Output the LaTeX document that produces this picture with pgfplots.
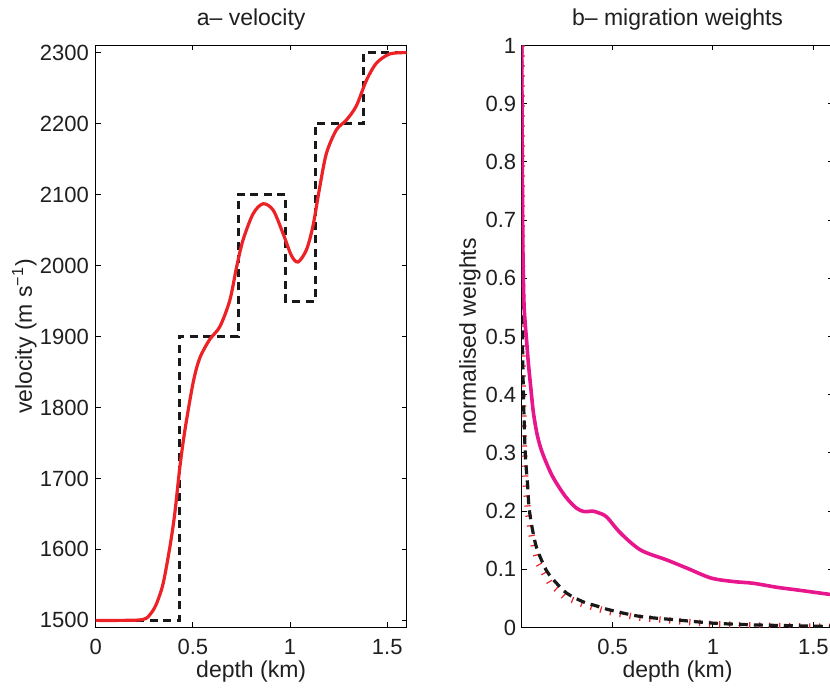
\documentclass[border=0pt]{standalone}
\usepackage{pgfplots}
\pgfplotsset{compat=1.18}
\usepackage{fontspec}
\setmainfont{Liberation Sans}
\definecolor{txt}{gray}{0.12}
\definecolor{myred}{RGB}{236,34,38}
\definecolor{mymag}{RGB}{232,22,140}
\newcommand{\ff}{\fontsize{11}{13}\selectfont}
\newcommand{\fl}{\fontsize{11.5}{13.8}\selectfont}
\begin{document}
\begin{tikzpicture}
\pgfplotsset{mystyle/.style={
  scale only axis, height=291pt, anchor=south west,
  axis line style={line width=0.6pt, black},
  every tick/.style={line width=0.5pt, black},
  major tick length=2.5pt,
  tick align=inside,
  xtick pos=both, ytick pos=both,
  xticklabel pos=lower, yticklabel pos=left,
  every tick label/.append style={font=\ff, text=txt},
  xticklabel style={inner sep=0pt, yshift=-5.5pt, anchor=north},
  label style={font=\fl, text=txt, inner sep=0pt},
  every axis title/.style={font=\fl, text=txt, inner sep=0pt, anchor=south, at={(axis description cs:0.5,1.0249)}},
  xlabel style={at={(axis description cs:0.5,-0.0567)}, anchor=north},
  /pgf/number format/assume math mode=true,
  scaled ticks=false,
}}
% ---------------- left panel ----------------
\begin{axis}[mystyle, at={(47.85pt,30.25pt)}, width=155.5pt,
  xmin=0, xmax=1.6, ymin=1490, ymax=2310,
  xtick={0,0.5,1,1.5}, xticklabels={0,0.5,1,1.5},
  ytick={1500,1600,1700,1800,1900,2000,2100,2200,2300},
  yticklabels={1500,1600,1700,1800,1900,2000,2100,2200,2300},
  yticklabel style={inner sep=0pt, xshift=-3.2pt, anchor=east},
  title={a\textendash\ velocity},
  xlabel={depth (km)},
  ylabel={velocity (m s\textsuperscript{−1})},
  ylabel style={at={(axis description cs:-0.1887,0.5)}, anchor=south},
]
\addplot[black!90, line width=1.5pt, dash pattern=on 4pt off 2.75pt] coordinates {
 (0,1500) (0.43,1500) (0.43,1900) (0.733,1900) (0.733,2100) (0.978,2100)
 (0.978,1950) (1.132,1950) (1.132,2200) (1.379,2200) (1.379,2300) (1.6,2300)};
\addplot[myred, line width=1.6pt, smooth] coordinates {
 (0,1500) (0.12,1500) (0.22,1500.5) (0.26,1503) (0.29,1512) (0.315,1525) (0.347,1552)
 (0.382,1604) (0.407,1651) (0.433,1716) (0.459,1768) (0.502,1836) (0.536,1870)
 (0.587,1896) (0.639,1914) (0.690,1951) (0.725,1998) (0.758,2036) (0.810,2073)
 (0.861,2087) (0.913,2078) (0.964,2045) (1.007,2014) (1.041,2005) (1.084,2022)
 (1.118,2056) (1.153,2111) (1.187,2158) (1.238,2191) (1.290,2205) (1.341,2225)
 (1.393,2261) (1.444,2285) (1.512,2298) (1.6,2300)};
\end{axis}
% ---------------- right panel ----------------
\begin{axis}[mystyle, at={(260.85pt,30.25pt)}, width=155.85pt,
  xmin=0.047, xmax=1.6, ymin=0, ymax=1,
  xtick={0.5,1,1.5}, xticklabels={0.5,1,1.5},
  ytick={0,0.1,0.2,0.3,0.4,0.5,0.6,0.7,0.8,0.9,1},
  yticklabels={0,0.1,0.2,0.3,0.4,0.5,0.6,0.7,0.8,0.9,1},
  yticklabel style={inner sep=0pt, xshift=-2.6pt, anchor=east},
  title={b\textendash\ migration weights},
  xlabel={depth (km)},
  ylabel={normalised weights},
  ylabel style={at={(axis description cs:-0.1306,0.5)}, anchor=south},
]
\addplot[myred, line width=3.2pt, line cap=butt, dash pattern=on 0.6pt off 4.4pt] coordinates {
 (0.047,1) (0.048,0.7) (0.050,0.5) (0.053,0.40) (0.058,0.31) (0.066,0.25)
 (0.078,0.20) (0.09,0.17) (0.11,0.135) (0.13,0.11) (0.19,0.075) (0.26,0.053)
 (0.35,0.040) (0.48,0.027) (0.63,0.017) (0.82,0.011) (1.0,0.006) (1.2,0.0035)
 (1.43,0.002) (1.6,0.001)};
\addplot[black!90, line width=1.6pt, dash pattern=on 4.5pt off 3pt, smooth] coordinates {
 (0.047,1) (0.049,0.7) (0.051,0.5) (0.055,0.41) (0.060,0.345) (0.066,0.29)
 (0.077,0.242) (0.083,0.208) (0.097,0.175) (0.117,0.142) (0.138,0.122) (0.17,0.098)
 (0.205,0.082) (0.271,0.059) (0.354,0.044) (0.42,0.037) (0.487,0.030) (0.637,0.019)
 (0.82,0.013) (1.0,0.0075) (1.2,0.0045) (1.434,0.0028) (1.6,0.0015)};
\addplot[mymag, line width=1.8pt, smooth] coordinates {
 (0.047,1) (0.050,0.8) (0.053,0.65) (0.058,0.56) (0.065,0.52) (0.072,0.49)
 (0.080,0.455) (0.090,0.42) (0.105,0.37) (0.125,0.33) (0.15,0.30) (0.2,0.26)
 (0.265,0.225) (0.32,0.205) (0.36,0.199) (0.40,0.200) (0.43,0.197) (0.47,0.19)
 (0.54,0.162) (0.64,0.133) (0.77,0.116) (0.87,0.102) (0.99,0.085) (1.10,0.079)
 (1.20,0.076) (1.32,0.069) (1.43,0.064) (1.6,0.056)};
\end{axis}
\pgfresetboundingbox
\path[use as bounding box] (0,0) rectangle (415pt,344pt);
\end{tikzpicture}
\end{document}
